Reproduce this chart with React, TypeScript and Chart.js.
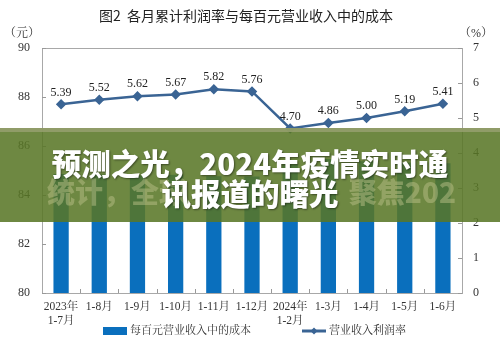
import React, { useEffect, useRef } from "react";
import { Chart, registerables } from "chart.js";
Chart.register(...registerables);

const categories: (string | string[])[] = [
  ["2023年", "1-7月"], "1-8月", "1-9月", "1-10月", "1-11月", "1-12月",
  ["2024年", "1-2月"], "1-3月", "1-4月", "1-5月", "1-6月",
];
const costPer100 = [84.86, 84.84, 84.80, 84.83, 84.77, 84.76, 85.26, 85.47, 85.38, 85.33, 85.30];
const profitMargin = [5.39, 5.52, 5.62, 5.67, 5.82, 5.76, 4.70, 4.86, 5.00, 5.19, 5.41];
const leftRange = [80, 90];
const rightRange = [0, 7];
const titleText = "图2  各月累计利润率与每百元营业收入中的成本";
const barLabel = "每百元营业收入中的成本";
const lineLabel = "营业收入利润率";
const bannerLine1 = "预测之光，2024年疫情实时通";
const bannerLine2 = "讯报道的曙光";
const ghostLeft = "统计，全球";
const ghostRight = "聚焦202";

const SERIF = "'Liberation Serif', 'Noto Serif CJK SC', 'Noto Sans CJK SC', serif";
const BAR = "#0a6fbd";
const LINE = "#3a6494";

export default function App() {
  const ref = useRef<HTMLCanvasElement | null>(null);
  useEffect(() => {
    if (!ref.current) return;
    const overlay = {
      id: "overlay",
      beforeDatasetsDraw(chart: any) {
        const { ctx, chartArea: a, scales } = chart;
        ctx.save();
        ctx.strokeStyle = "#a8a8a8";
        ctx.lineWidth = 1;
        ctx.strokeRect(Math.round(a.left) + 0.5, Math.round(a.top) + 0.5, Math.round(a.right - a.left), Math.round(a.bottom - a.top));
        ctx.strokeStyle = "#999";
        const y = scales.y, y1 = scales.y1;
        y.ticks.forEach((t: any) => {
          const p = Math.round(y.getPixelForValue(t.value)) + 0.5;
          ctx.beginPath(); ctx.moveTo(a.left, p); ctx.lineTo(a.left + 4, p); ctx.stroke();
        });
        y1.ticks.forEach((t: any) => {
          const p = Math.round(y1.getPixelForValue(t.value)) + 0.5;
          ctx.beginPath(); ctx.moveTo(a.right, p); ctx.lineTo(a.right - 4, p); ctx.stroke();
        });
        const n = categories.length;
        const w = (a.right - a.left) / n;
        for (let i = 1; i < n; i++) {
          const p = Math.round(a.left + i * w) + 0.5;
          ctx.beginPath(); ctx.moveTo(p, a.bottom); ctx.lineTo(p, a.bottom - 4); ctx.stroke();
        }
        ctx.restore();
      },
      afterDatasetsDraw(chart: any) {
        const { ctx } = chart;
        ctx.save();
        const meta = chart.getDatasetMeta(1);
        ctx.font = `12px ${SERIF}`;
        ctx.fillStyle = "#222";
        ctx.textAlign = "center";
        ctx.textBaseline = "middle";
        meta.data.forEach((pt: any, i: number) => {
          ctx.fillText(profitMargin[i].toFixed(2), pt.x, pt.y - 12);
        });
        ctx.font = `14px 'Noto Sans CJK SC', sans-serif`;
        ctx.fillStyle = "#222";
        ctx.fillText(titleText, 246, 16);
        ctx.font = `12px ${SERIF}`;
        ctx.fillStyle = "#333";
        ctx.fillText("（元）", 22, 34);
        ctx.fillText("（%）", 476, 34);
        const ly = 331;
        ctx.fillStyle = BAR;
        ctx.fillRect(103, ly - 4, 24, 8);
        ctx.font = `11px ${SERIF}`;
        ctx.fillStyle = "#333";
        ctx.textAlign = "left";
        ctx.fillText(barLabel, 130, ly);
        ctx.strokeStyle = LINE;
        ctx.lineWidth = 3;
        ctx.beginPath(); ctx.moveTo(302, ly); ctx.lineTo(326, ly); ctx.stroke();
        ctx.fillStyle = LINE;
        ctx.beginPath();
        ctx.moveTo(314, ly - 3.5); ctx.lineTo(317.5, ly); ctx.lineTo(314, ly + 3.5); ctx.lineTo(310.5, ly); ctx.closePath(); ctx.fill();
        ctx.fillStyle = "#333";
        ctx.fillText(lineLabel, 329, ly);
        ctx.restore();
      },
    };
    const chart = new Chart(ref.current, {
      data: {
        labels: categories as any,
        datasets: [
          {
            type: "bar",
            label: barLabel,
            data: costPer100,
            backgroundColor: BAR,
            yAxisID: "y",
            barPercentage: 0.4,
            categoryPercentage: 1,
            order: 2,
          },
          {
            type: "line",
            label: lineLabel,
            data: profitMargin,
            borderColor: LINE,
            backgroundColor: LINE,
            borderWidth: 2.5,
            pointStyle: "rectRot",
            pointRadius: 3.5,
            pointBackgroundColor: LINE,
            pointBorderColor: LINE,
            yAxisID: "y1",
            tension: 0,
            order: 1,
          },
        ],
      } as any,
      options: {
        responsive: false,
        animation: false,
        layout: { padding: { top: 48, left: 0, right: 0, bottom: 0 } },
        plugins: { legend: { display: false }, title: { display: false }, tooltip: { enabled: false } },
        scales: {
          x: {
            offset: true,
            grid: { display: false, drawTicks: false },
            border: { display: false },
            ticks: { color: "#333", font: { size: 11.5, family: SERIF }, padding: 7, maxRotation: 0, autoSkip: false },
            afterFit: (s: any) => { s.height = 61; },
          },
          y: {
            position: "left",
            min: leftRange[0],
            max: leftRange[1],
            grid: { display: false, drawTicks: false },
            border: { display: false },
            ticks: { stepSize: 2, color: "#333", font: { size: 12, family: SERIF }, padding: 12 },
            afterFit: (s: any) => { s.width = 42; },
          },
          y1: {
            position: "right",
            min: rightRange[0],
            max: rightRange[1],
            grid: { display: false, drawTicks: false },
            border: { display: false },
            ticks: { stepSize: 1, color: "#333", font: { size: 12, family: SERIF }, padding: 11 },
            afterFit: (s: any) => { s.width = 38; },
          },
        },
      } as any,
      plugins: [overlay],
    });
    return () => chart.destroy();
  }, []);

  const bold = "'Noto Sans CJK SC', sans-serif";
  return (
    <div style={{ position: "fixed", left: 0, top: 0, width: 500, height: 354, background: "#fff", overflow: "hidden" }}>
      <canvas ref={ref} width={500} height={354} style={{ display: "block" }} />
      <div
        style={{
          position: "absolute", left: 0, top: 128, width: 500, height: 94,
          background: "rgba(88,118,38,0.87)",
          borderTop: "4px solid rgba(150,160,110,0.85)",
          boxSizing: "border-box",
          fontFamily: bold,
        }}
      >
        <div style={{ position: "absolute", left: 47, top: 44, fontSize: 28, fontWeight: 900, color: "rgba(185,192,135,0.5)", lineHeight: "30px" }}>{ghostLeft}</div>
        <div style={{ position: "absolute", right: 44, top: 44, fontSize: 28, fontWeight: 900, color: "rgba(185,192,135,0.5)", lineHeight: "30px" }}>{ghostRight}</div>
        <div
          style={{
            position: "absolute", left: 0, width: 500, top: 15, textAlign: "center",
            fontSize: 29.5, fontWeight: 900, color: "#fff", lineHeight: "30px",
            textShadow: "1px 1px 2px rgba(0,0,0,0.45)",
          }}
        >
          <div>{bannerLine1}</div>
          <div>{bannerLine2}</div>
        </div>
      </div>
    </div>
  );
}
